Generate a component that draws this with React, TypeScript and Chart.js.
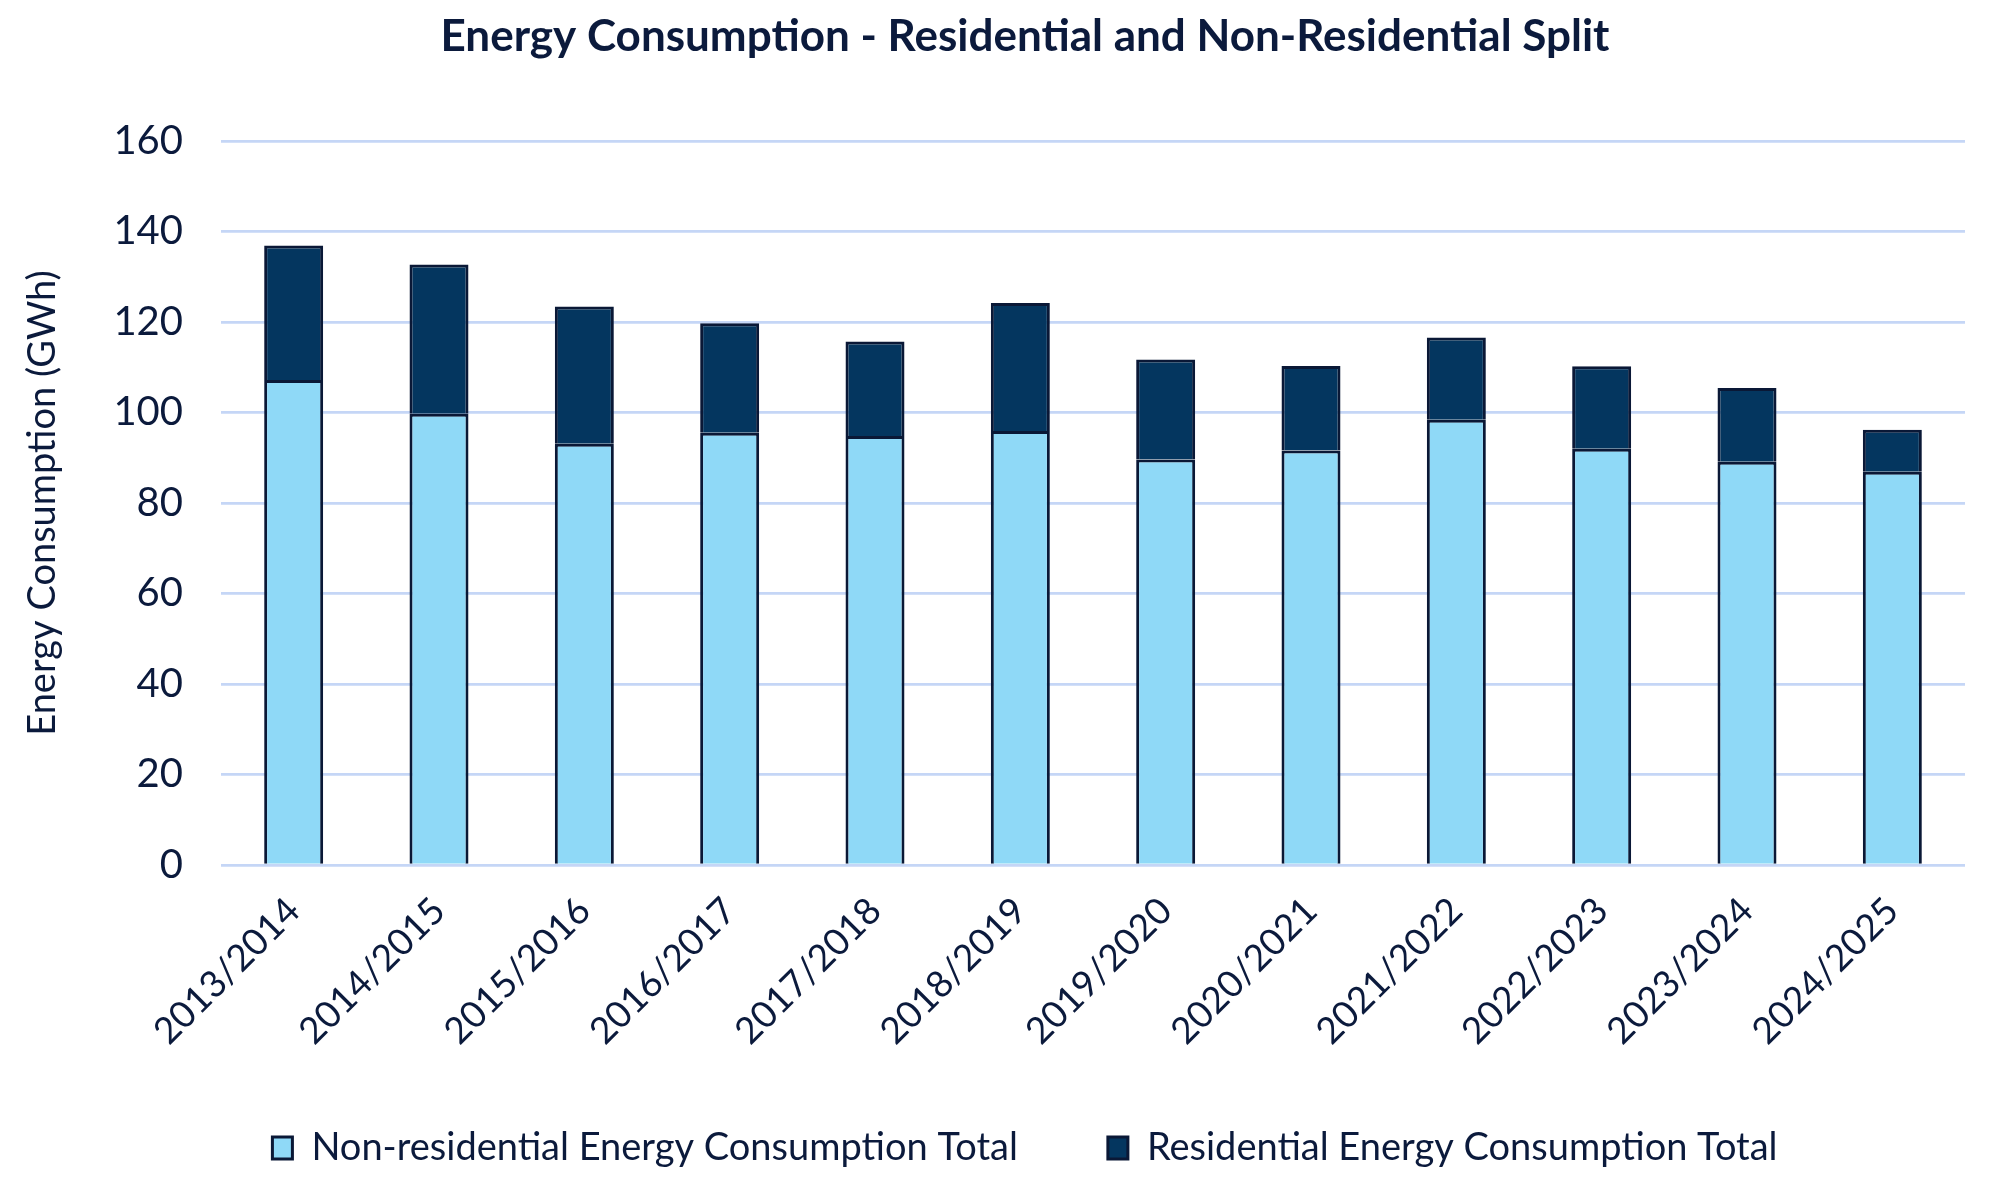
import React, { useEffect, useRef } from "react";
import { Chart, registerables } from "chart.js";

Chart.register(...registerables);

const categories = [
  "2013/2014", "2014/2015", "2015/2016", "2016/2017", "2017/2018", "2018/2019",
  "2019/2020", "2020/2021", "2021/2022", "2022/2023", "2023/2024", "2024/2025",
];
const nonResidential = [107.2, 99.7, 93.1, 95.5, 94.8, 95.9, 89.6, 91.6, 98.4, 92.0, 89.1, 86.9];
const residential = [29.7, 33.0, 30.3, 24.2, 20.9, 28.3, 22.1, 18.7, 18.2, 18.2, 16.3, 9.3];
const seriesNames = ["Non-residential Energy Consumption Total", "Residential Energy Consumption Total"];
const yMin = 0;
const yMax = 160;
const yStep = 20;
const titleText = "Energy Consumption - Residential and Non-Residential Split";
const yTitle = "Energy Consumption (GWh)";

const TEXT = "#0b1a3c";
const LIGHT = "#8fd9f7";
const DARK = "#04365f";
const EDGE = "#0a1836";
const GRID = "#c5d6f6";
const FONT = "Lato";

export default function App() {
  const ref = useRef<HTMLCanvasElement | null>(null);

  useEffect(() => {
    document.body.style.margin = "0";
    const canvas = ref.current;
    if (!canvas) return;
    Chart.defaults.font.family = FONT;
    Chart.defaults.color = TEXT;
    const chart = new Chart(canvas, {
      type: "bar",
      data: {
        labels: categories,
        datasets: [
          {
            label: seriesNames[0],
            data: nonResidential,
            backgroundColor: LIGHT,
            borderColor: EDGE,
            borderWidth: 3,
            barPercentage: 0.406,
            categoryPercentage: 1,
          },
          {
            label: seriesNames[1],
            data: residential,
            backgroundColor: DARK,
            borderColor: EDGE,
            borderWidth: 3,
            barPercentage: 0.406,
            categoryPercentage: 1,
          },
        ],
      },
      options: {
        responsive: false,
        animation: false,
        devicePixelRatio: 1,
        layout: { padding: { left: 34, right: 0, top: 0, bottom: 11 } },
        plugins: {
          title: {
            display: true,
            text: titleText,
            color: TEXT,
            font: { family: FONT, size: 44, weight: "bold", lineHeight: 1 },
            padding: { top: 15, bottom: 82 },
          },
          legend: {
            position: "bottom",
            labels: {
              color: TEXT,
              font: { family: FONT, size: 38, lineHeight: 1 },
              boxWidth: 20,
              boxHeight: 22,
              padding: 90,
            },
          },
          tooltip: { enabled: false },
        },
        scales: {
          x: {
            stacked: true,
            grid: { display: false, drawTicks: false },
            border: { display: false },
            ticks: {
              color: TEXT,
              font: { family: FONT, size: 37 },
              minRotation: 45,
              maxRotation: 45,
              autoSkip: false,
              padding: 24,
            },
            afterFit: (scale: any) => {
              scale.height = 174;
              scale._computeLabelArea = () => undefined;
            },
          },
          y: {
            stacked: true,
            min: yMin,
            max: yMax,
            ticks: {
              stepSize: yStep,
              color: TEXT,
              font: { family: FONT, size: 40 },
              padding: 38,
            },
            grid: { color: GRID, lineWidth: 2.7, drawTicks: false },
            border: { display: false },
            title: {
              display: true,
              text: yTitle,
              color: TEXT,
              font: { family: FONT, size: 38, lineHeight: 1 },
              padding: { top: -10, bottom: 0 },
            },
            afterFit: (scale: any) => {
              scale.width = 187;
            },
          },
          y2: {
            position: "right",
            display: true,
            grid: { display: false, drawTicks: false },
            border: { display: false },
            ticks: { display: false },
            afterFit: (scale: any) => {
              scale.width = 51;
            },
          },
        },
      },
    });
    return () => chart.destroy();
  }, []);

  return (
    <div style={{ position: "absolute", left: 0, top: 0, width: 2016, height: 1188, background: "#ffffff" }}>
      <canvas ref={ref} width={2016} height={1188} style={{ width: 2016, height: 1188, display: "block" }} />
    </div>
  );
}
